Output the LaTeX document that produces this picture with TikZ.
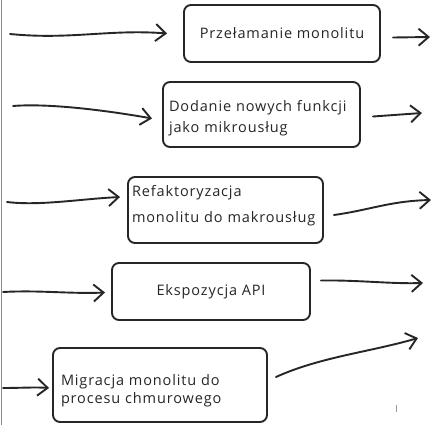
\documentclass[tikz,border=0pt]{standalone}
\usepackage{fontspec}
\setmainfont[LetterSpace=6]{Open Sans}
\usetikzlibrary{arrows.meta}
\tikzset{
  stagebox/.style={draw=black!85, line width=1.9pt, rounded corners=7pt,
    fill=white, inner sep=0pt, align=left,
    font=\fontsize{14.5}{21}\selectfont, text=black!85},
  flow/.style={draw=black!85, line width=1.9pt, line cap=round,
    -{Straight Barb[length=10pt,width=17pt]}},
}
\begin{document}
\begin{tikzpicture}[x=1pt,y=-1pt]
\useasboundingbox (0,0) rectangle (433,425);
% left margin rule
\draw[black!45, line width=1.6pt] (1.5,0) -- (1.5,425);
% stage boxes
\node[stagebox, minimum width=196pt, minimum height=57pt] (b1) at (282,33.5) {Przełamanie monolitu};
\node[stagebox, minimum width=197pt, minimum height=65pt, inner xsep=6pt, text width=185pt,
      font=\fontsize{14.5}{21}\selectfont] (b2) at (261.5,114.5)
  {\rule{0pt}{18pt}Dodanie nowych funkcji\\jako mikrousług};
\node[stagebox, minimum width=195pt, minimum height=66pt, inner xsep=4pt, text width=187pt,
      font=\fontsize{14.5}{26}\selectfont] (b3) at (225.5,210)
  {Refaktoryzacja\\monolitu do makrousług\rule[-13pt]{0pt}{1pt}};
\node[stagebox, minimum width=198pt, minimum height=57pt] (b4) at (211,291.5) {Ekspozycja API};
\node[stagebox, minimum width=214pt, minimum height=74pt, inner xsep=8pt, text width=198pt,
      font=\fontsize{14.5}{18}\selectfont] (b5) at (160,385)
  {\rule{0pt}{23pt}Migracja monolitu do\\procesu chmurowego};
% free ends of the connectors
\coordinate (i1) at (10,34);
\coordinate (i2) at (13,106);
\coordinate (i3) at (7,202);
\coordinate (i4) at (3,292);
\coordinate (i5) at (3,388);
\coordinate (o1) at (430,37);
\coordinate (o2) at (422,113);
\coordinate (o3) at (431,200);
\coordinate (o4) at (423,283);
\coordinate (o5) at (418,338);
% incoming arrows
\draw[flow] (i1) .. controls (70,40) and (110,29) .. ([xshift=-16pt]b1.west);
\draw[flow] (i2) .. controls (50,103) and (110,111) .. ([xshift=-10pt,yshift=-4pt]b2.west);
\draw[flow] (i3) .. controls (40,206) and (80,199) .. ([xshift=-7pt,yshift=13pt]b3.west);
\draw[flow] (i4) .. controls (40,290) and (70,294) .. ([xshift=-6pt,yshift=-1pt]b4.west);
\draw[flow] (i5) .. controls (20,388) and (35,387) .. ([xshift=-3pt,yshift=-3pt]b5.west);
% outgoing arrows
\draw[flow] ([xshift=12pt,yshift=-4pt]b1.east) -- (o1);
\draw[flow] ([xshift=12pt,yshift=-2pt]b2.east) -- (o2);
\draw[flow] ([xshift=10pt,yshift=-5pt]b3.east) .. controls (370,210) and (390,201) .. (o3);
\draw[flow] ([xshift=10pt,yshift=11pt]b4.east) .. controls (360,280) and (390,284) .. (o4);
\draw[flow] ([xshift=8pt,yshift=8pt]b5.east) .. controls (320,357) and (370,352) .. (o5);
% small pencil mark
\draw[black!40, line width=1pt] (396,405) -- (396,412);
\end{tikzpicture}
\end{document}
